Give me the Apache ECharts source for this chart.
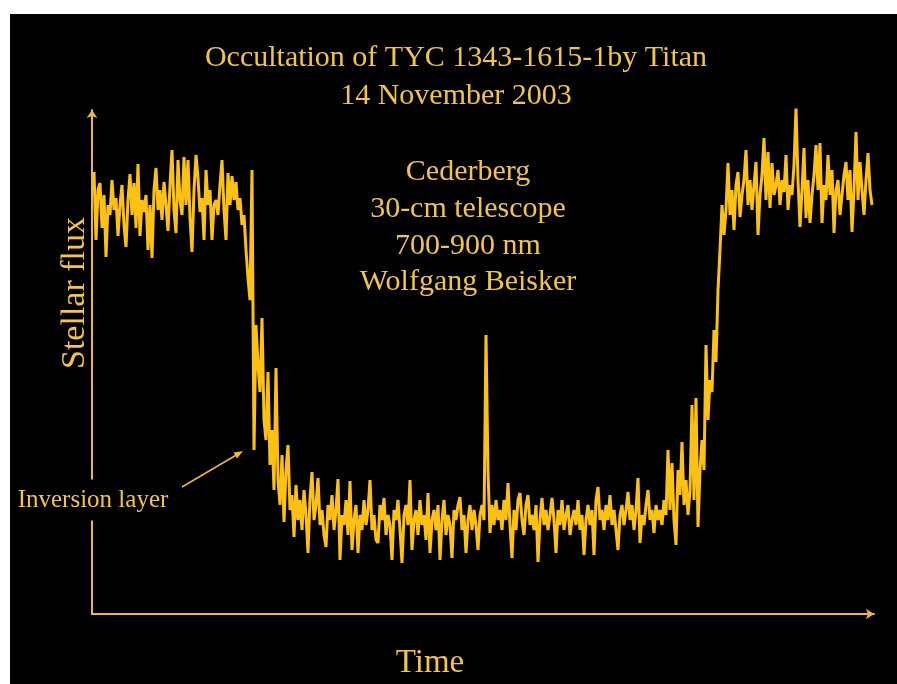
<!DOCTYPE html>
<html>
<head>
<meta charset="utf-8">
<script src="https://cdn.jsdelivr.net/npm/echarts@6/dist/echarts.min.js"></script>
<style>
  html, body { margin: 0; padding: 0; background: #fff; }
  #main { width: 897px; height: 684px; }
</style>
</head>
<body>
<div id="main"></div>
<script>
// stellar flux (relative counts)
var plateauBefore = [
  442, 374, 424, 431, 386, 419, 357, 409, 399, 434,
  404, 416, 378, 409, 429, 389, 367, 414, 440, 399,
  431, 386, 450, 378, 414, 402, 419, 364, 409, 356,
  424, 446, 404, 424, 394, 432, 409, 383, 429, 464,
  404, 381, 454, 414, 399, 457, 409, 454, 396, 362,
  424, 459, 436, 402, 416, 374, 444, 409, 424, 374,
  409, 414, 399, 429, 454, 404, 374, 441, 409, 438,
  414, 432, 404, 416, 389, 399
];
var ingress = [
  364, 336, 314, 444, 164, 289, 249, 222, 296, 194,
  174, 242, 149, 184, 124, 246, 134, 109, 159, 92,
  144, 169
];
var floor = [
  104, 119, 77, 129, 94, 114, 84, 124, 99, 61,
  116, 142, 94, 109, 136, 89, 104, 79, 67, 109,
  94, 119, 84, 104, 135, 54, 99, 89, 114, 79,
  133, 64, 94, 109, 61, 99, 84, 114, 89, 104,
  134, 84, 99, 74, 71, 109, 94, 116, 79, 99,
  89, 54, 104, 94, 114, 84, 51, 99, 109, 89,
  134, 64, 94, 104, 79, 114, 89, 99, 74, 121,
  61, 94, 104, 84, 109, 54, 94, 114, 79, 99,
  89, 56, 104, 94, 109, 117, 84, 99, 61, 94,
  109, 84, 104, 89, 64, 99, 109, 94, 279, 142,
  81, 109, 89, 114, 94, 104, 84, 114, 94, 131,
  89, 56, 104, 84, 114, 121, 94, 79, 109, 119,
  89, 99, 84, 109, 52, 94, 116, 89, 104, 84,
  99, 116, 94, 61, 104, 89, 114, 84, 99, 109,
  79, 94, 104, 89, 114, 84, 99, 59, 94, 109,
  89, 104, 59, 114, 127, 94, 104, 84, 109, 94,
  119, 89, 104, 84, 64, 99, 109, 89, 104, 122,
  94, 109, 84, 104, 136, 71, 99, 89, 109, 124,
  94, 104, 81, 109, 94, 104, 89, 114, 99, 164,
  104, 151, 94, 69, 144, 119, 172, 109, 134, 99
];
var egress = [
  124, 209, 114, 216, 87, 144, 174, 144, 269, 194,
  234, 222, 284, 252, 324, 364, 409, 379, 404, 451,
  399
];
var plateauAfter = [
  424, 384, 429, 442, 397, 419, 434, 464, 409, 434,
  404, 429, 452, 379, 419, 439, 476, 414, 462, 406,
  451, 419, 429, 444, 409, 434, 422, 459, 404, 429,
  419, 449, 506, 434, 387, 424, 466, 396, 434, 391,
  419, 439, 469, 424, 471, 391, 429, 414, 459, 419,
  444, 381, 424, 434, 399, 419, 439, 452, 414, 444,
  382, 424, 482, 414, 452, 424, 399, 434, 461, 424,
  409
];
// first time sample of each segment (time units, one sample per unit)
var segments = [plateauBefore, ingress, floor, egress, plateauAfter];
var segmentStart = [1, 77, 99, 299, 320];

var titleLines = ['Occultation of TYC 1343-1615-1by Titan', '14 November 2003'];
var infoLines = ['Cederberg', '30-cm telescope', '700-900 nm', 'Wolfgang Beisker'];

var curve = [];
segments.forEach(function (seg, k) {
    seg.forEach(function (v, i) {
        curve.push([segmentStart[k] + i, v]);
    });
});

var gold = '#FDC113';
var textGold = '#F2C447';
var axisGold = '#F0B83A';
var serif = '"Liberation Serif", "Times New Roman", serif';

var graphics = [{
    type: 'rect',
    z: -10,
    silent: true,
    shape: { x: 10, y: 14, width: 887, height: 670 },
    style: { fill: '#000' }
}];
var titleY = [58, 96];
titleLines.forEach(function (t, i) {
    graphics.push({
        type: 'text', x: 456, y: titleY[i],
        style: { text: t, fill: textGold, font: '30px ' + serif, textAlign: 'center', textVerticalAlign: 'middle' }
    });
});
var infoY = [172, 209, 246, 282];
infoLines.forEach(function (t, i) {
    graphics.push({
        type: 'text', x: 468, y: infoY[i],
        style: { text: t, fill: textGold, font: '30px ' + serif, textAlign: 'center', textVerticalAlign: 'middle' }
    });
});
graphics.push({
    type: 'text', x: 75, y: 293, rotation: Math.PI / 2,
    style: { text: 'Stellar flux', fill: textGold, font: '34px ' + serif, textAlign: 'center', textVerticalAlign: 'middle' }
});
graphics.push({
    type: 'text', x: 430, y: 663,
    style: { text: 'Time', fill: textGold, font: '33px ' + serif, textAlign: 'center', textVerticalAlign: 'middle' }
});
graphics.push({
    type: 'text', x: 93, y: 500, z: 10,
    style: {
        text: 'Inversion layer', fill: textGold, font: '25px ' + serif,
        textAlign: 'center', textVerticalAlign: 'middle',
        backgroundColor: '#000', padding: [8, 2]
    }
});
// arrow pointing at the inversion-layer spike
graphics.push({
    type: 'line', z: 10,
    shape: { x1: 182, y1: 487, x2: 238, y2: 454 },
    style: { stroke: axisGold, lineWidth: 1.5 }
});
graphics.push({
    type: 'polygon', z: 10,
    shape: { points: [[243, 451], [237, 458.6], [233.5, 452.6]] },
    style: { fill: axisGold }
});

var myChart = echarts.init(document.getElementById('main'));
var option = {
    backgroundColor: '#fff',
    animation: false,
    grid: { left: 92, right: 23, top: 110, bottom: 70 },
    xAxis: {
        type: 'value', min: 0, max: 391,
        axisLine: { show: true, symbol: ['none', 'arrow'], symbolSize: [8, 8], lineStyle: { color: axisGold, width: 2 } },
        axisTick: { show: false },
        axisLabel: { show: false },
        splitLine: { show: false }
    },
    yAxis: {
        type: 'value', min: 0, max: 504,
        axisLine: { show: true, symbol: ['none', 'arrow'], symbolSize: [8, 8], lineStyle: { color: axisGold, width: 2 } },
        axisTick: { show: false },
        axisLabel: { show: false },
        splitLine: { show: false }
    },
    graphic: graphics,
    series: [{
        type: 'line',
        data: curve,
        showSymbol: false,
        sampling: 'none',
        lineStyle: { color: gold, width: 3 }
    }]
};
myChart.setOption(option);
</script>
</body>
</html>
